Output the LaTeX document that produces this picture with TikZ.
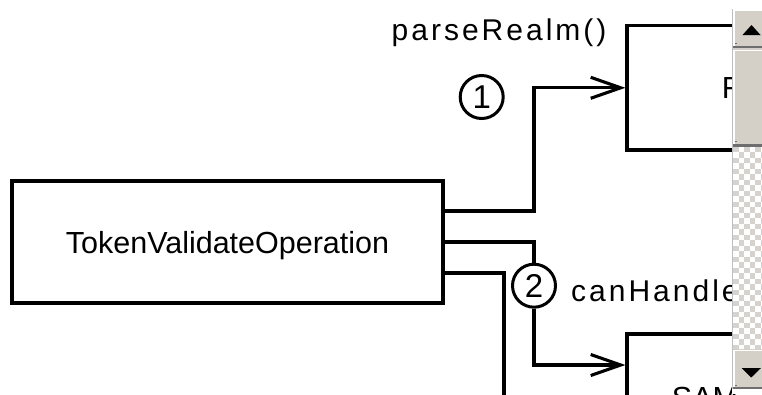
\documentclass[tikz,border=0pt]{standalone}
\usepackage{fontspec}
\setmainfont{Liberation Sans}
\newfontfamily\spacedfont[LetterSpace=10]{Liberation Sans}
\usetikzlibrary{arrows.meta,calc}
\definecolor{btnface}{HTML}{D4D0C8}
\definecolor{btnshadow}{HTML}{6E6E6E}
\definecolor{checkgray}{HTML}{D6D3CE}
\tikzset{
  box/.style={draw, line width=3.2pt, rectangle, inner sep=0pt,
    font=\fontsize{30.5}{36}\selectfont, text depth=0pt},
  conn/.style={line width=3.1pt},
  arr/.style={conn, -{Straight Barb[length=30pt 0 0, width=21pt 0 0]}},
  num/.style={draw, circle, line width=3pt, minimum size=43pt, inner sep=0pt,
    font=\fontsize{33}{36}\selectfont, fill=white},
  lab/.style={font=\spacedfont\fontsize{30}{34}\selectfont, inner sep=0pt, anchor=base west},
}
\begin{document}
\begin{tikzpicture}[x=1pt,y=-1pt]
\useasboundingbox (0,0) rectangle (762,394);
\clip (0,0) rectangle (762,394);
\fill[white] (0,0) rectangle (762,394);

% boxes
\node[box, minimum width=431pt, minimum height=122pt] (main) at (227.5,242) {TokenValidateOperation};
\node[box, minimum width=212pt, minimum height=124.5pt] (realm) at (733,87.8) {R};
\node[box, minimum width=156pt, minimum height=128pt] (sam) at (705,398) {SAM};

% numbered markers
\node[num] (c1) at (481.7,97) {1};
\node[num] (c2) at (534,285.7) {2};

% labels
\node[lab] (l1) at (391.5,40.5) {parseRealm()};
\node[lab] (l2) at (571,301) {canHandle};

% connectors
\draw[arr] ([yshift=31pt]main.east) -| (c2.north |- realm.west) -- (realm.west);
\draw[conn] (main.east) -| (c2.north);
\draw[arr] (c2.south) |- ([yshift=33pt]sam.west);
\coordinate (d3) at (504,400);
\draw[conn] ([yshift=-31pt]main.east) -| (d3);

% scrollbar
\fill[white] (732,0) rectangle (770,394);
\draw[line width=1pt, black!25] (732.5,9) -- (732.5,389);
% up button
\fill[btnface] (733,9.5) rectangle (770,46);
\draw[white, line width=1.4pt] (734,46) -- (734,10.5) -- (770,10.5);
\fill[btnshadow] (733,45.5) rectangle (770,48);
\draw[btnshadow, line width=1pt] (734.5,43) -- (737,43);
\fill[black] (751.5,25) -- (760.5,35) -- (742.5,35) -- cycle;
% thumb
\fill[btnface] (733,48) rectangle (770,146.5);
\draw[white, line width=1.4pt] (734,144) -- (734,50.5) -- (770,50.5);
\fill[btnshadow] (733,144) rectangle (770,146.5);
\draw[btnshadow, line width=1pt] (734.5,141) -- (737,141);
% track
\begin{scope}
  \clip (733,146.5) rectangle (770,349);
  \fill[white] (733,146.5) rectangle (770,349);
  \foreach \i in {0,...,37}{
    \foreach \j in {0,...,6}{
      \pgfmathtruncatemacro\k{mod(\i+\j,2)}
      \ifnum\k=0
        \fill[checkgray] ({733+5.5*\j},{146.5+5.5*\i}) rectangle ++(5.5,5.5);
      \fi
    }
  }
\end{scope}
% down button
\fill[btnface] (733,349) rectangle (770,388.5);
\draw[white, line width=1.4pt] (734,387) -- (734,350.5) -- (770,350.5);
\fill[btnshadow] (733,386.5) rectangle (770,389);
\draw[btnshadow, line width=1pt] (734.5,385) -- (737,385);
\fill[black] (741.5,368) -- (761,368) -- (751.2,377.5) -- cycle;
\end{tikzpicture}
\end{document}
